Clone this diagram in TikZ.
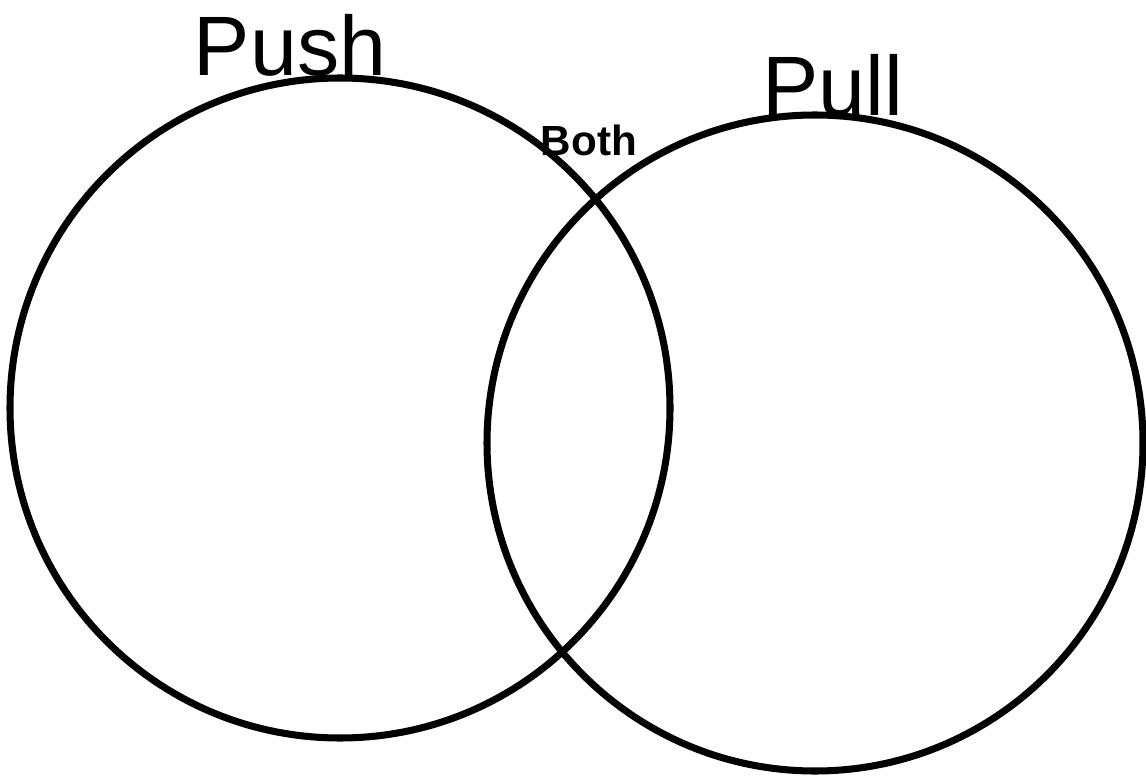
\documentclass[tikz,border=0pt]{standalone}
\usepackage{fontspec}
\setmainfont{Liberation Sans}
\usetikzlibrary{positioning}
\tikzset{
  vennring/.style={draw=black, line width=4pt, circle, inner sep=0pt},
  bigword/.style={font=\fontsize{48}{52}\selectfont, text=black, inner sep=0pt},
  smallword/.style={font=\bfseries\fontsize{24}{26}\selectfont, text=black, inner sep=0pt}}
\begin{document}
\begin{tikzpicture}
  \useasboundingbox (0,0) rectangle (22.92,15.52);
  \fill[white] (0,0) rectangle (22.92,15.52);
  % the two sets
  \node[vennring, minimum size=13.2cm] (push) at (6.8,7.36) {};
  \node[vennring, minimum size=13.12cm] (pull) at (16.3,6.66) {};
  % set names
  \node[bigword, anchor=base] (pushname) at (5.8,14.0) {Push};
  \node[bigword, anchor=base] (pullname) at (16.65,13.2) {Pull};
  \node[smallword, anchor=base] (bothname) at (11.78,12.4) {Both};
\end{tikzpicture}
\end{document}
